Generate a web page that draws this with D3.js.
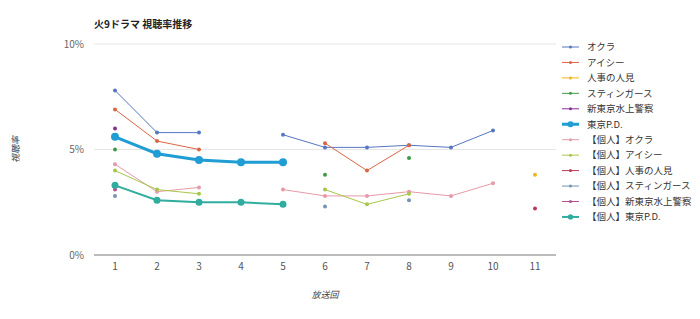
<!DOCTYPE html>
<html>
<head>
<meta charset="utf-8">
<script src="https://cdn.jsdelivr.net/npm/d3@7"></script>
<style>
  body { margin: 0; background: #fff; }
  svg { font-family: "Noto Sans CJK JP", "Noto Sans", sans-serif; }
</style>
</head>
<body>
<div id="chart"></div>
<script>
// 放送回
const episodes = [1, 2, 3, 4, 5, 6, 7, 8, 9, 10, 11];
const yTicks = [0, 5, 10];

// 世帯視聴率 (%)
const okura      = [7.8, 5.8, 5.8, null, 5.7, 5.1, 5.1, 5.2, 5.1, 5.9, null];
const icy        = [6.9, 5.4, 5.0, null, null, 5.3, 4.0, 5.2, null, null, null];
const hitomi     = [null, null, null, null, null, null, null, null, null, null, 3.8];
const stingers   = [5.0, null, null, null, null, 3.8, null, 4.6, null, null, null];
const shintokyo  = [6.0, null, null, null, null, null, null, null, null, null, null];
const tokyoPD    = [5.6, 4.8, 4.5, 4.4, 4.4, null, null, null, null, null, null];

// 個人視聴率 (%)
const pOkura     = [4.3, 3.0, 3.2, null, 3.1, 2.8, 2.8, 3.0, 2.8, 3.4, null];
const pIcy       = [4.0, 3.1, 2.9, null, null, 3.1, 2.4, 2.9, null, null, null];
const pHitomi    = [null, null, null, null, null, null, null, null, null, null, 2.2];
const pStingers  = [2.8, null, null, null, null, 2.3, null, 2.6, null, null, null];
const pShintokyo = [3.1, null, null, null, null, null, null, null, null, null, null];
const pTokyoPD   = [3.3, 2.6, 2.5, 2.5, 2.4, null, null, null, null, null, null];

const seriesNames = ["オクラ", "アイシー", "人事の人見", "スティンガース", "新東京水上警察", "東京P.D.",
  "【個人】オクラ", "【個人】アイシー", "【個人】人事の人見", "【個人】スティンガース", "【個人】新東京水上警察", "【個人】東京P.D."];
const seriesValues = [okura, icy, hitomi, stingers, shintokyo, tokyoPD,
  pOkura, pIcy, pHitomi, pStingers, pShintokyo, pTokyoPD];
const colors = ["#5577c2", "#dd6544", "#f2b21b", "#3f9a45", "#8a2c96", "#209dd2",
  "#e69aa9", "#a8c64a", "#b83a55", "#7593b6", "#b64c92", "#30ad9e"];
const widths = [1, 1, 1, 1, 1, 3, 1, 1, 1, 1, 1, 2];
const radii  = [2, 2, 2, 2, 2, 4, 2, 2, 2, 2, 2, 3.5];

const W = 700, H = 319;
const margin = {top: 44, right: 144, bottom: 64, left: 94};
const width = W - margin.left - margin.right;
const height = H - margin.top - margin.bottom;

const svg = d3.select("#chart").append("svg")
  .attr("width", W).attr("height", H);

const x = d3.scaleBand().domain(episodes).range([0, width]).padding(0);
const y = d3.scaleLinear().domain([0, 10]).range([height, 0]);

const g = svg.append("g").attr("transform", `translate(${margin.left},${margin.top})`);

// タイトル
svg.append("text")
  .attr("x", margin.left).attr("y", 28)
  .style("font-size", "10px").style("font-weight", "bold").attr("fill", "#222")
  .text("火9ドラマ 視聴率推移");

// グリッド
g.selectAll(".grid").data(yTicks.filter(t => t > 0)).enter()
  .append("line")
  .attr("x1", 0).attr("x2", width)
  .attr("y1", d => y(d)).attr("y2", d => y(d))
  .attr("stroke", "#e6e6e6").attr("stroke-width", 1);

g.append("line")
  .attr("x1", 0).attr("x2", width)
  .attr("y1", y(0)).attr("y2", y(0))
  .attr("stroke", "#777").attr("stroke-width", 1);

// Y軸ラベル
g.selectAll(".ytick").data(yTicks).enter()
  .append("text")
  .attr("x", -10).attr("y", d => y(d)).attr("dy", "0.35em")
  .attr("text-anchor", "end")
  .style("font-size", "10px").attr("fill", "#666")
  .text(d => d + "%");

// X軸ラベル
g.selectAll(".xtick").data(episodes).enter()
  .append("text")
  .attr("x", d => x(d) + x.bandwidth() / 2).attr("y", height + 15)
  .attr("text-anchor", "middle")
  .style("font-size", "10px").attr("fill", "#555")
  .text(d => d);

// 軸タイトル
svg.append("text")
  .attr("x", margin.left + width / 2).attr("y", 298)
  .attr("text-anchor", "middle")
  .style("font-size", "9px").style("font-style", "italic").attr("fill", "#444")
  .text("放送回");

svg.append("text")
  .attr("transform", `translate(19,${margin.top + height / 2}) rotate(-90)`)
  .attr("text-anchor", "middle")
  .style("font-size", "9px").style("font-style", "italic").attr("fill", "#444")
  .text("視聴率");

// 系列
const line = d3.line()
  .defined(d => d.v !== null)
  .x(d => x(d.ep) + x.bandwidth() / 2)
  .y(d => y(d.v));

seriesValues.forEach((vals, i) => {
  const pts = episodes.map((ep, j) => ({ep: ep, v: vals[j]}));
  g.append("path")
    .datum(pts)
    .attr("fill", "none")
    .attr("stroke", colors[i])
    .attr("stroke-width", widths[i])
    .attr("d", line);
  g.selectAll(".dot" + i)
    .data(pts.filter(d => d.v !== null))
    .enter()
    .append("circle")
    .attr("cx", d => x(d.ep) + x.bandwidth() / 2)
    .attr("cy", d => y(d.v))
    .attr("r", radii[i])
    .attr("fill", colors[i]);
});

// 凡例
const legend = svg.append("g").attr("transform", "translate(562,47)");
const rowH = 15.45;
seriesNames.forEach((name, i) => {
  const row = legend.append("g").attr("transform", `translate(0,${i * rowH})`);
  row.append("line")
    .attr("x1", 0).attr("x2", 17).attr("y1", 0).attr("y2", 0)
    .attr("stroke", colors[i]).attr("stroke-width", widths[i]);
  row.append("circle")
    .attr("cx", 8.5).attr("cy", 0).attr("r", radii[i] * 0.75)
    .attr("fill", colors[i]);
  row.append("text")
    .attr("x", 25).attr("y", 0).attr("dy", "0.35em")
    .style("font-size", "9.5px").attr("fill", "#333")
    .text(name);
});
</script>
</body>
</html>
